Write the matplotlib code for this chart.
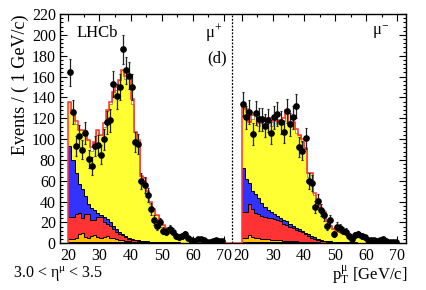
import numpy as np
import matplotlib
matplotlib.use('Agg')
import matplotlib.pyplot as plt

plt.rcParams['font.family'] = ['Liberation Serif', 'DejaVu Serif']
plt.rcParams['mathtext.fontset'] = 'custom'
plt.rcParams['mathtext.rm'] = 'Liberation Serif'
plt.rcParams['mathtext.it'] = 'Liberation Serif:italic'

# ---------------- data ----------------
bin_edges = np.arange(20, 71, 1)          # pT bins, GeV/c (50 bins)
tick_values = [20, 30, 40, 50, 60, 70]
tick_labels = ['20', '30', '40', '50', '60', '70']

# mu+ : observed events
data_plus = [164, 126, 93, 103, 90, 106, 81, 74, 93, 94, 85, 100, 116, 118, 153, 141, 150, 186, 166, 161,
             150, 97, 95, 60, 56, 46, 33, 22, 17, 20, 12, 11, 14, 11, 7, 6, 7, 9, 5, 3,
             2, 4, 4, 3, 1, 1, 2, 3, 2, 2]
# mu+ : stacked template levels (cumulative tops)
total_plus = [136, 125, 117, 109, 109, 108, 99, 92, 97, 109, 104, 115, 128, 136, 145, 150, 157, 166, 161, 160,
              138, 107, 99, 65, 63, 50, 40, 33, 27, 22, 18, 15, 13, 11, 9, 8, 7, 6, 5, 4,
              4, 3, 3, 2, 2, 2, 1.5, 1, 1, 1]
other_plus = [0, 0, 3, 0, 0, 2, 0, 3, 0, 0, 0, 3, 0, 2, 0, 3, 0, 0, 3, 0,
              4, 0, 3, 0, 3, 0, 2, 0, 0, 1, 0, 0, 0, 0, 0, 0, 0, 0, 0, 0,
              0, 0, 0, 0, 0, 0, 0, 0, 0, 0]
blue_top_plus = [93, 80, 67, 57, 52, 45, 38, 34, 32, 29, 27, 25, 23, 20, 17, 14, 11, 9, 7, 5.5,
                 4.5, 3.5, 3, 2.5, 2, 1.8, 1.5, 1.3, 1.2, 1.1, 1, 1, 1, 0.9, 0.8, 0.8, 0.7, 0.7, 0.6, 0.6,
                 0.5, 0.5, 0.5, 0.4, 0.4, 0.4, 0.3, 0.3, 0.3, 0.3]
red_top_plus = [25, 25, 28, 29, 24, 28, 28, 22, 22, 25, 25, 20, 19, 17, 14, 11, 9, 7.5, 6, 4.5,
                3.5, 3, 2.5, 2, 1.6, 1.4, 1.2, 1.1, 1, 0.9, 0.8, 0.8, 0.8, 0.7, 0.7, 0.6, 0.6, 0.6, 0.5, 0.5,
                0.5, 0.4, 0.4, 0.4, 0.3, 0.3, 0.3, 0.3, 0.3, 0.3]
orange_top_plus = [4, 4, 5, 9, 10, 6, 5, 7, 8, 6, 5, 6, 7, 5, 5, 4, 3.5, 3, 2.5, 2,
                   1.5, 1.2, 1, 1, 0.8, 0.8, 0.7, 0.7, 0.6, 0.6, 0.5, 0.5, 0.5, 0.5, 0.5, 0.4, 0.4, 0.4, 0.4, 0.4,
                   0.3, 0.3, 0.3, 0.3, 0.3, 0.2, 0.2, 0.2, 0.2, 0.2]
dark_top_plus = [1.2] * 22 + [0.5] * 28

# mu- : observed events
data_minus = [134, 121, 126, 105, 125, 119, 119, 113, 118, 106, 121, 124, 116, 107, 127, 114, 121, 132, 92, 89,
              101, 60, 58, 35, 41, 32, 27, 17, 22, 9, 16, 15, 12, 11, 7, 4, 8, 9, 7, 6,
              3, 3, 3, 2, 3, 4, 2, 1, 1, 1]
total_minus = [134, 129, 116, 123, 123, 115, 115, 118, 120, 117, 120, 117, 118, 120, 128, 116, 116, 110, 104, 100,
               91, 67, 67, 48, 40, 30, 30, 22, 17, 14, 13, 11, 10, 9, 8, 7, 6, 6, 5, 5,
               4, 3, 3, 2, 2, 2, 1.5, 1, 1, 1]
other_minus = [0, 3, 0, 4, 0, 2, 0, 3, 0, 4, 0, 3, 0, 2, 0, 3, 0, 4, 0, 3,
               0, 3, 0, 2, 0, 2, 0, 1, 0, 0, 0, 0, 0, 0, 0, 0, 0, 0, 0, 0,
               0, 0, 0, 0, 0, 0, 0, 0, 0, 0]
blue_top_minus = [72, 62, 58, 50, 47, 43, 39, 35, 32, 30, 28, 26, 24, 22, 21, 19, 17, 15, 14, 12,
                  10, 9, 7, 6, 4, 3, 2.5, 2, 1.8, 1.5, 1.3, 1.2, 1.1, 1, 0.9, 0.8, 0.8, 0.7, 0.7, 0.6,
                  0.6, 0.5, 0.5, 0.5, 0.4, 0.4, 0.4, 0.3, 0.3, 0.3]
red_top_minus = [30, 30, 38, 33, 29, 28, 26, 25, 24, 24, 23, 22, 21, 19, 18, 16, 15, 13, 12, 10.5,
                 9, 7, 5, 4, 3, 2, 1.8, 1.5, 1.3, 1.2, 1.1, 1, 0.9, 0.8, 0.8, 0.7, 0.7, 0.6, 0.6, 0.5,
                 0.5, 0.5, 0.4, 0.4, 0.4, 0.3, 0.3, 0.3, 0.3, 0.3]
orange_top_minus = [5, 5, 8, 6, 5, 5, 4, 4, 4, 3.5, 3, 3, 3, 2.5, 2.5, 2, 2, 2, 1.5, 1.5,
                    1.2, 1, 1, 0.8, 0.8, 0.7, 0.7, 0.6, 0.6, 0.5, 0.5, 0.5, 0.5, 0.4, 0.4, 0.4, 0.4, 0.4, 0.3, 0.3,
                    0.3, 0.3, 0.3, 0.3, 0.2, 0.2, 0.2, 0.2, 0.2, 0.2]
dark_top_minus = [1.2] * 22 + [0.5] * 28

# ---------------- style ----------------
C_YELLOW = '#ffff33'
C_BLUE = '#3333ff'
C_RED = '#ff3333'
C_ORANGE = '#ffc000'
C_DARK = '#6b1f6b'
C_OTHER = '#ffffff'

RIGHT_OFFSET = 55.68   # horizontal shift of the mu- panel on the shared axis
DIVIDER = 72.57

fig = plt.figure(figsize=(4.27, 2.90), dpi=100)
ax = fig.add_axes([0.1405, 0.161, 0.8096, 0.7907])


def draw_panel(ax, shift, data, total, other, blue_top, red_top, orange_top, dark_top):
    edges = bin_edges + shift
    total = np.asarray(total, float)
    other = np.asarray(other, float)
    yellow_top = total - other
    levels = [np.zeros(len(total)), np.asarray(dark_top, float), np.asarray(orange_top, float),
              np.asarray(red_top, float), np.asarray(blue_top, float), yellow_top, total]
    colors = [C_DARK, C_ORANGE, C_RED, C_BLUE, C_YELLOW, C_OTHER]
    for lo, hi, col in zip(levels[:-1], levels[1:], colors):
        ax.stairs(hi, edges, baseline=lo, fill=True, facecolor=col, edgecolor='none', zorder=2)
    for hi in levels[1:5]:
        ax.stairs(hi, edges, baseline=None, color='black', lw=0.7, zorder=3)
    ax.stairs(yellow_top, edges, baseline=None, color='#777777', lw=0.5, zorder=3)
    ax.stairs(total, edges, baseline=0, color=C_RED, lw=1.1, zorder=4)
    centers = 0.5 * (edges[:-1] + edges[1:])
    d = np.asarray(data, float)
    ax.errorbar(centers, d, yerr=np.sqrt(d), fmt='o', color='black', ms=3.8,
                elinewidth=0.9, ecolor='#222222', capsize=1.0, capthick=0.8, zorder=5)


draw_panel(ax, 0.0, data_plus, total_plus, other_plus, blue_top_plus, red_top_plus,
           orange_top_plus, dark_top_plus)
draw_panel(ax, RIGHT_OFFSET, data_minus, total_minus, other_minus, blue_top_minus, red_top_minus,
           orange_top_minus, dark_top_minus)

# baseline between panels and divider
ax.plot([bin_edges[-1], bin_edges[0] + RIGHT_OFFSET], [0, 0], color=C_RED, lw=1.1, zorder=4)
ax.axvline(DIVIDER, color='black', lw=0.9, ls=(0, (1.5, 1.2)), zorder=6)

ax.set_xlim(17.33, 128.35)
ax.set_ylim(0, 220)

major_x = list(tick_values) + [t + RIGHT_OFFSET for t in tick_values]
minor_x = [t + 5 for t in tick_values[:-1]] + [t + 5 + RIGHT_OFFSET for t in tick_values[:-1]]
ax.set_xticks(major_x)
ax.set_xticklabels(tick_labels + tick_labels)
ax.set_xticks(minor_x, minor=True)
ax.set_yticks(np.arange(0, 221, 20))
ax.set_yticks(np.arange(0, 221, 4), minor=True)

ax.tick_params(which='both', direction='in', top=True, right=True, labelsize=11.5, width=0.8)
ax.tick_params(which='major', length=5)
ax.tick_params(which='minor', length=2.5)
ax.tick_params(axis='y', pad=3)
ax.tick_params(axis='x', pad=3.5)
for s in ax.spines.values():
    s.set_linewidth(1.0)

ax.set_ylabel('Events / ( 1 GeV/c)', fontsize=13, loc='top')
ax.yaxis.set_label_coords(-0.09, 1.0)

ax.text(29.2, 202, 'LHCb', fontsize=12, ha='center', va='center')
ax.text(66.8, 202, 'μ$^{+}$', fontsize=12, ha='center', va='center')
ax.text(67.8, 177, '(d)', fontsize=12, ha='center', va='center')
ax.text(120.4, 203, 'μ$^{\\mathrm{-}}$', fontsize=12, ha='center', va='center')

fig.text(0.03, 0.04, '3.0 < η$^{\\mathrm{μ}}$ < 3.5', fontsize=11.5, ha='left', va='baseline')
fig.text(0.953, 0.036, 'p$_{\\mathrm{T}}^{\\mathrm{μ}}$ [GeV/c]', fontsize=12, ha='right', va='baseline')

fig.savefig('out.png', dpi=100)
